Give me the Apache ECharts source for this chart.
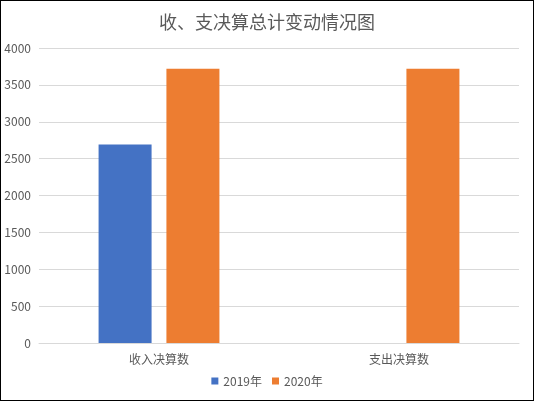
<!DOCTYPE html>
<html>
<head>
<meta charset="utf-8">
<script src="https://cdn.jsdelivr.net/npm/echarts@6/dist/echarts.min.js"></script>
<style>
html,body{margin:0;padding:0;background:#fff;}
#c{width:532px;height:399px;border:1px solid #000;}
</style>
</head>
<body>
<div id="c"></div>
<script>
const categories = ['收入决算数', '支出决算数'];
const seriesNames = ['2019年', '2020年'];
const values2019 = [2690, null];
const values2020 = [3720, 3720];
const yTicks = {min: 0, max: 4000, interval: 500};

const chart = echarts.init(document.getElementById('c'));
const font = '"Noto Sans CJK SC", "Noto Sans", sans-serif';
chart.setOption({
  animation: false,
  color: ['#4472C4', '#ED7D31'],
  title: {
    text: '收、支决算总计变动情况图',
    left: 'center',
    top: 7,
    textStyle: {fontSize: 18, fontWeight: 'normal', color: '#595959', fontFamily: font}
  },
  legend: {
    bottom: 8,
    itemWidth: 7,
    itemHeight: 7,
    itemGap: 10,
    icon: 'rect',
    textStyle: {fontSize: 12, color: '#595959', fontFamily: font},
    data: seriesNames
  },
  grid: {left: 38, right: 14, top: 47, bottom: 57},
  xAxis: {
    type: 'category',
    data: categories,
    axisLine: {lineStyle: {color: '#D9D9D9'}},
    axisTick: {show: false},
    axisLabel: {color: '#595959', fontSize: 12, fontFamily: font, margin: 10}
  },
  yAxis: {
    type: 'value',
    min: yTicks.min, max: yTicks.max, interval: yTicks.interval,
    axisLine: {show: false},
    axisTick: {show: false},
    splitLine: {lineStyle: {color: '#D9D9D9'}},
    axisLabel: {color: '#595959', fontSize: 12, fontFamily: font, margin: 8, formatter: function (v) { return String(v); }}
  },
  series: [
    {name: seriesNames[0], type: 'bar', data: values2019, barWidth: 53, barGap: '28%'},
    {name: seriesNames[1], type: 'bar', data: values2020, barWidth: 53, barGap: '28%'}
  ]
});
</script>
</body>
</html>
